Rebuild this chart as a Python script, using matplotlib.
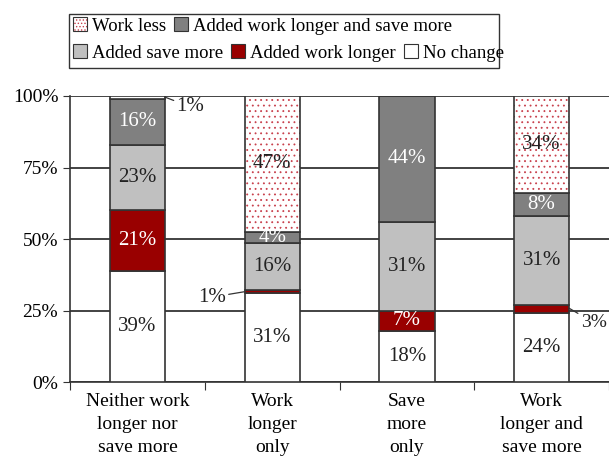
import matplotlib
matplotlib.use("Agg")
import matplotlib.pyplot as plt
from matplotlib.patches import Patch, Rectangle
import numpy as np

plt.rcParams['font.family'] = ['Liberation Serif', 'DejaVu Serif']
plt.rcParams['hatch.linewidth'] = 0.6

categories = ["Neither work\nlonger nor\nsave more", "Work\nlonger\nonly",
              "Save\nmore\nonly", "Work\nlonger and\nsave more"]
no_change = [39, 31, 18, 24]
work_longer = [21, 1, 7, 3]
save_more = [23, 16, 31, 31]
both = [16, 4, 44, 8]
work_less = [1, 47, 0, 34]

c_dark = '#808080'
c_light = '#c0c0c0'
c_red = '#990000'
c_edge = '#333333'
c_dot = '#c8404c'

# rounded shares don't always add to 100, stack them as 100% bars
tot = np.array(no_change) + np.array(work_longer) + np.array(save_more) + np.array(both) + np.array(work_less)
scale = 100.0 / tot

fig = plt.figure(figsize=(6.09, 4.66), dpi=100)
ax = fig.add_axes([0.115, 0.18, 0.885, 0.614])

x = np.arange(len(categories))
w = 0.41
fs = 14
fs_bar = 15
series = [(no_change, 'white', 'No change'),
          (work_longer, c_red, 'Added work longer'),
          (save_more, c_light, 'Added save more'),
          (both, c_dark, 'Added work longer and save more'),
          (work_less, 'white', 'Work less')]
bottom = np.zeros(4)
for k, (vals, col, name) in enumerate(series):
    hgt = np.array(vals) * scale
    if name == 'Work less':
        ax.bar(x, hgt, w, bottom=bottom, color='white', edgecolor=c_dot,
               hatch='...', lw=0, zorder=3)
        ax.bar(x, hgt, w, bottom=bottom, fill=False, edgecolor=c_edge, lw=1.2, zorder=4)
    else:
        ax.bar(x, hgt, w, bottom=bottom, color=col, edgecolor=c_edge, lw=1.2, zorder=3)
    for i, v in enumerate(vals):
        if v >= 4:
            tc = 'white' if col in (c_red, c_dark) else '#222222'
            ax.text(i, bottom[i] + hgt[i] / 2, f"{v}%", ha='center', va='center',
                    fontsize=fs_bar, color=tc, zorder=5)
    bottom += hgt

# small values with leader lines
arr = dict(arrowstyle='-', color=c_edge, lw=0.9, shrinkA=0, shrinkB=0)
ax.annotate("1%", xy=(0 + w / 2, 99.6), xytext=(0.29, 96.2), fontsize=fs_bar,
            va='center', ha='left', color='#222222', arrowprops=arr)
ax.annotate("1%", xy=(1 - w / 2, 31.6), xytext=(0.45, 29.7), fontsize=fs_bar,
            va='center', ha='left', color='#222222', arrowprops=arr)
ax.annotate("3%", xy=(3 + w / 2, 25.8), xytext=(3.29, 20.8), fontsize=fs,
            va='center', ha='left', color='#222222', arrowprops=arr)

ax.set_xlim(-0.5, 3.5)
ax.set_ylim(0, 100)
ax.set_yticks([0, 25, 50, 75, 100])
ax.set_yticklabels(['0%', '25%', '50%', '75%', '100%'], fontsize=fs)
ax.yaxis.grid(True, color='#222222', lw=1.2, zorder=0)
ax.set_xticks([-0.5, 0.5, 1.5, 2.5, 3.5])
ax.set_xticklabels([])
ax.set_xticks(x, minor=True)
ax.set_xticklabels(categories, minor=True, fontsize=fs, linespacing=1.45)
ax.tick_params(axis='x', which='minor', length=0, pad=8)
ax.tick_params(axis='x', which='major', length=6, direction='out', color=c_edge)
ax.tick_params(axis='y', length=5, direction='out', color=c_edge)
for s in ['top', 'right']:
    ax.spines[s].set_visible(False)
for s in ['left', 'bottom']:
    ax.spines[s].set_color(c_edge)
    ax.spines[s].set_linewidth(1.2)

# legend: two rows inside one frame
def h(fc):
    return Patch(facecolor=fc, edgecolor=c_edge, lw=0.8)

dotted = (Patch(facecolor='white', edgecolor=c_dot, hatch='.....', lw=0),
          Patch(fill=False, edgecolor=c_edge, lw=0.8))

kw = dict(frameon=False, fontsize=13.5, handlelength=0.75, handleheight=0.75,
          handletextpad=0.25, columnspacing=0.45, borderpad=0, borderaxespad=0)
fig.legend([dotted, h(c_dark)],
           ['Work less', 'Added work longer and save more'],
           loc='upper left', bbox_to_anchor=(0.12, 0.963), ncol=2, **kw)
fig.legend([h(c_light), h(c_red), h('white')],
           ['Added save more', 'Added work longer', 'No change'],
           loc='upper left', bbox_to_anchor=(0.12, 0.905), ncol=3, **kw)
fig.add_artist(Rectangle((0.113, 0.854), 0.706, 0.116, transform=fig.transFigure,
                         fill=False, edgecolor=c_edge, lw=1.0))

fig.savefig('out.png', dpi=100)
